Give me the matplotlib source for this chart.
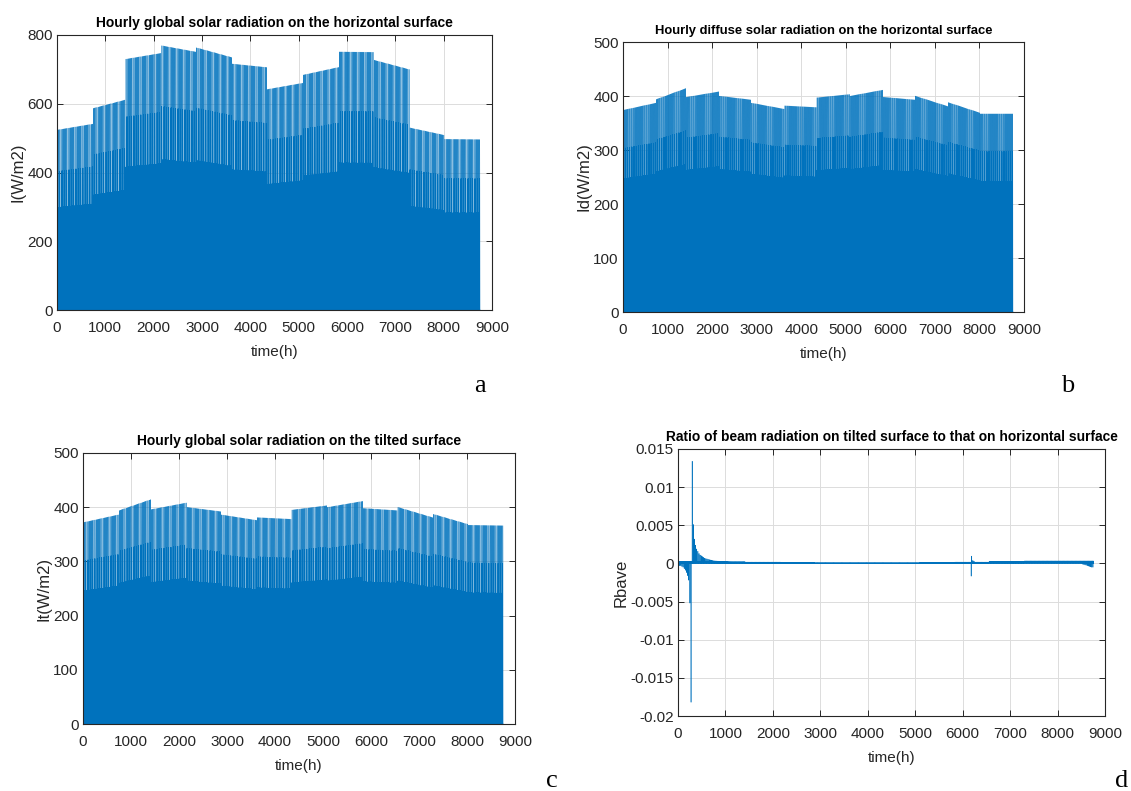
import numpy as np
import matplotlib
matplotlib.use('Agg')
import matplotlib.pyplot as plt

plt.rcParams['path.simplify'] = False
plt.rcParams['font.family'] = ['Liberation Sans', 'DejaVu Sans']

# ---------------- data ----------------
month_hours = [744, 672, 744, 720, 744, 720, 744, 744, 720, 744, 720, 744]

# (a) global horizontal: daily peak at start / end of each month (W/m2)
I_start = [524, 587, 730, 769, 763, 716, 642, 684, 751, 727, 530, 497]
I_end = [541, 611, 747, 751, 735, 706, 660, 706, 750, 700, 509, 496]
# hourly fraction of the daily peak (hours 0..23), alternating day types
I_profile_a = [0, 0, 0, 0, 0, 0, 0.35, 0.77, 0.0, 0.60, 1.00, 0.85,
               0.70, 0.45, 0.20, 0, 0, 0, 0, 0, 0, 0, 0, 0]
I_profile_b = [0, 0, 0, 0, 0, 0, 0.30, 0.57, 0.0, 0.50, 0.80, 1.00,
               0.90, 0.70, 0.40, 0, 0, 0, 0, 0, 0, 0, 0, 0]

# (b) diffuse horizontal
Id_start = [374, 394, 398, 400, 387, 382, 397, 400, 398, 400, 388, 367]
Id_end = [387, 414, 408, 393, 376, 379, 403, 411, 393, 381, 369, 367]
Id_profile_a = [0, 0, 0, 0, 0, 0, 0.40, 0.81, 0.0, 0.65, 1.00, 0.90,
                0.75, 0.50, 0.25, 0, 0, 0, 0, 0, 0, 0, 0, 0]
Id_profile_b = [0, 0, 0, 0, 0, 0, 0.35, 0.66, 0.0, 0.55, 0.85, 1.00,
                0.90, 0.68, 0.45, 0, 0, 0, 0, 0, 0, 0, 0, 0]

# (c) global tilted
It_start = [372, 394, 396, 400, 386, 381, 395, 400, 398, 400, 387, 367]
It_end = [386, 414, 408, 392, 376, 378, 403, 411, 394, 381, 369, 366]
It_profile_a = [0, 0, 0, 0, 0, 0, 0.40, 0.81, 0.0, 0.65, 1.00, 0.90,
                0.75, 0.50, 0.25, 0, 0, 0, 0, 0, 0, 0, 0, 0]
It_profile_b = [0, 0, 0, 0, 0, 0, 0.35, 0.66, 0.0, 0.55, 0.85, 1.00,
                0.90, 0.68, 0.45, 0, 0, 0, 0, 0, 0, 0, 0, 0]

# (d) Rbave
rb_base_profile = [0, 0, 0, 0, 0, 0, 0.00025, 0.0002, 0.00012, 0.00008, 0.00005, 0.00003,
                   0.00002, 0.00003, 0.00005, 0.00008, 0.00012, 0.0002, 0.00025, 0, 0, 0, 0, 0]
rb_month_scale = [1.0, 0.9, 0.7, 0.5, 0.4, 0.4, 0.4, 0.5, 0.7, 1.0, 1.3, 1.3]
rb_early = [-0.0002, -0.0003, -0.0003, -0.0004, -0.0005, -0.0007, -0.0009, -0.0012,
            -0.0016, -0.0022, -0.0052, -0.0182,
            0.0134, 0.0051, 0.0032, 0.0024, 0.0019, 0.0016, 0.0013, 0.0011, 0.0010,
            0.0009, 0.0008, 0.0007, 0.00065, 0.0006, 0.00055, 0.0005, 0.00046, 0.00043,
            0.0004, 0.00037, 0.00035, 0.00033, 0.00031, 0.0003, 0.00028, 0.00027,
            0.00026, 0.00025, 0.00024, 0.00023, 0.00022, 0.00021, 0.0002, 0.00019,
            0.00018, 0.00017]
rb_event_hours = [6178, 6190, 6214, 6238]
rb_event_values = [-0.00167, 0.00096, 0.0004, 0.0003]
rb_tail = [-0.0001, -0.00015, -0.0002, -0.00025, -0.0003, -0.00035, -0.0004,
           -0.00045, -0.0005, -0.0005]

xticks = [0, 1000, 2000, 3000, 4000, 5000, 6000, 7000, 8000, 9000]
yticks_a = [0, 200, 400, 600, 800]
yticks_bc = [0, 100, 200, 300, 400, 500]
yticks_d = [-0.02, -0.015, -0.01, -0.005, 0, 0.005, 0.01, 0.015]
ylabels_d = ['-0.02', '-0.015', '-0.01', '-0.005', '0', '0.005', '0.01', '0.015']

titles = ['Hourly global solar radiation on the horizontal surface',
          'Hourly diffuse solar radiation on the horizontal surface',
          'Hourly global solar radiation on the tilted surface',
          'Ratio of beam radiation on tilted surface to that on horizontal surface']
ylabels = ['I(W/m2)', 'Id(W/m2)', 'It(W/m2)', 'Rbave']
letters = ['a', 'b', 'c', 'd']


def hourly(starts, ends, prof_a, prof_b):
    days = [h // 24 for h in month_hours]
    peaks = np.concatenate([np.linspace(s, e, n) for s, e, n in zip(starts, ends, days)])
    profs = np.array([prof_a, prof_b])[np.arange(len(peaks)) % 2]
    return (peaks[:, None] * profs).ravel()


I = hourly(I_start, I_end, I_profile_a, I_profile_b)
Id = hourly(Id_start, Id_end, Id_profile_a, Id_profile_b)
It = hourly(It_start, It_end, It_profile_a, It_profile_b)
rb = np.tile(rb_base_profile, 365) * np.repeat(rb_month_scale, month_hours)
for d, v in enumerate(rb_early):
    rb[d * 24 + 10] = v
rb[np.asarray(rb_event_hours)] = rb_event_values
for k, v in enumerate(rb_tail):
    rb[(365 - len(rb_tail) + k) * 24 + 9] = v
t = np.arange(1, len(I) + 1)

# ---------------- figure ----------------
W, H = 1131, 791
fig = plt.figure(figsize=(W / 100, H / 100), dpi=100)


def rect(l, t_, r, b):
    return [l / W, 1 - b / H, (r - l) / W, (b - t_) / H]


rects = [rect(57, 35, 492, 310), rect(623, 42, 1024, 312),
         rect(83, 453, 515, 724), rect(678, 449, 1105, 716)]
series = [I, Id, It, rb]
ylims = [(0, 800), (0, 500), (0, 500), (-0.02, 0.015)]
yt = [yticks_a, yticks_bc, yticks_bc, yticks_d]
title_sizes = [10, 9.4, 10, 9.9]
line_widths = [0.31, 0.31, 0.31, 0.4]
blue = '#0072BD'
dark = '#262626'

for i in range(4):
    ax = fig.add_axes(rects[i])
    ax.plot(t, series[i], color=blue, lw=line_widths[i])
    ax.set_xlim(0, 9000)
    ax.set_ylim(*ylims[i])
    ax.set_xticks(xticks)
    ax.set_yticks(yt[i])
    if i == 3:
        ax.set_yticklabels(ylabels_d)
    ax.set_axisbelow(True)
    ax.grid(True, color='#dcdcdc', lw=0.7)
    ax.tick_params(direction='in', top=True, right=True, length=4, width=0.7,
                   colors=dark, labelsize=11, pad=3)
    ax.tick_params(axis='x', pad=8)
    for s in ax.spines.values():
        s.set_color(dark)
        s.set_linewidth(0.8)
    ax.set_title(titles[i], fontsize=title_sizes[i], fontweight='bold', color='black', pad=6)
    ax.set_ylabel(ylabels[i], fontsize=12, color=dark, labelpad=1.5)
    ax.set_xlabel('time(h)', fontsize=11, color=dark, labelpad=7)

letter_pos = [(480, 392), (1068, 392), (552, 787), (1122, 787)]
for (x, y), s in zip(letter_pos, letters):
    fig.text(x / W, 1 - y / H, s, fontsize=19, family=['Liberation Serif', 'DejaVu Serif'],
             ha='center', va='baseline')

fig.savefig('out.png', dpi=100)
